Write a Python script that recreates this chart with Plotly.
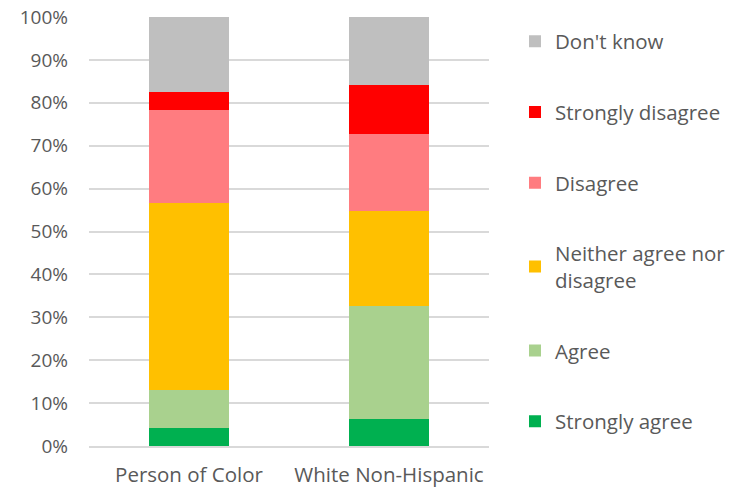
import plotly.graph_objects as go

categories = ["Person of Color", "White Non-Hispanic"]
series_names = ["Strongly agree", "Agree", "Neither agree nor<br>disagree", "Disagree", "Strongly disagree", "Don't know"]
strongly_agree = [4.3, 6.3]
agree = [8.7, 26.3]
neither = [43.6, 22.2]
disagree = [21.7, 17.9]
strongly_disagree = [4.2, 11.4]
dont_know = [17.5, 15.9]
colors = ["#00B050", "#A9D18E", "#FFC000", "#FF7C80", "#FF0000", "#BFBFBF"]

values = [strongly_agree, agree, neither, disagree, strongly_disagree, dont_know]

fig = go.Figure()
n = len(series_names)
for i, (name, vals, col) in enumerate(zip(series_names, values, colors)):
    fig.add_trace(go.Bar(
        x=categories, y=vals, name=name, marker_color=col,
        marker_line_width=0, legendgroup=f"g{i}", legendrank=n - i,
    ))

font_family = "Open Sans, Lato, sans-serif"
fig.update_layout(
    barmode="stack",
    bargap=0.6,
    width=740, height=492,
    margin=dict(l=89, r=251, t=17, b=46, autoexpand=False),
    paper_bgcolor="white", plot_bgcolor="white",
    font=dict(family=font_family, size=20, color="#595959"),
    legend=dict(
        traceorder="grouped",
        tracegroupgap=41,
        x=1.065, xanchor="left", y=0.5, yanchor="middle",
        font=dict(size=20.5, color="#595959"),
        itemwidth=30,
    ),
    yaxis=dict(
        range=[0, 100], dtick=10, ticksuffix="%",
        showgrid=True, gridcolor="#D9D9D9", gridwidth=1.5,
        zeroline=False, showline=False, ticks="", automargin=False,
        tickfont=dict(size=19), ticklabelstandoff=20,
    ),
    xaxis=dict(showline=True, linecolor="#D9D9D9", linewidth=1.5, ticks="",
               automargin=False, tickfont=dict(size=20.5), ticklabelstandoff=10),
)
fig.write_html("out.html", post_script="document.body.style.margin='0px';",
               config={"displayModeBar": False})
